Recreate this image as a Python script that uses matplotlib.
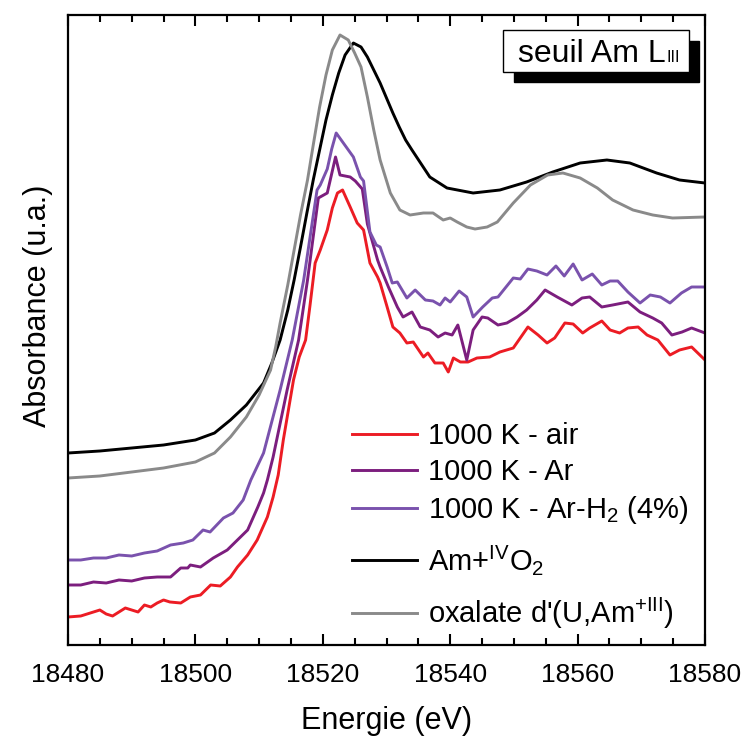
import matplotlib
matplotlib.use("Agg")
import matplotlib.pyplot as plt
from matplotlib.patches import Rectangle
from matplotlib.ticker import MultipleLocator

plt.rcParams['font.family'] = ['Liberation Sans', 'DejaVu Sans']
plt.rcParams['mathtext.fontset'] = 'custom'
plt.rcParams['mathtext.rm'] = 'Liberation Sans'
plt.rcParams['mathtext.it'] = 'Liberation Sans'
plt.rcParams['mathtext.bf'] = 'Liberation Sans'

# ---- data (absorbance in arbitrary units) ----
energy_amo2 = [18480, 18485, 18490, 18495, 18500, 18503, 18505.5, 18508, 18510.7, 18512,
               18513.3, 18514.5, 18515.5, 18516.5, 18517.5, 18518.5, 18519.5, 18520.5, 18521.5, 18522.5,
               18523.5, 18524.8, 18526, 18527, 18528, 18529, 18530, 18531, 18532, 18533,
               18534, 18536.8, 18539.5, 18543.6, 18547.8, 18552, 18556.1, 18560.4, 18564.6, 18568.2,
               18572.4, 18576, 18580]
abs_amo2 = [192, 194, 197, 200, 205, 212, 225, 240, 262, 282,
            305, 335, 365, 398, 432, 465, 495, 525, 550, 572,
            590, 602, 598, 588, 575, 562, 547, 532, 518, 505,
            495, 468, 457, 452, 455, 463, 473, 482, 485, 482,
            472, 465, 462]

energy_oxal = [18480, 18485, 18490, 18495, 18500, 18503, 18505.5, 18508, 18510, 18511.8,
               18512.6, 18513.3, 18514.5, 18515.5, 18516.5, 18517.6, 18518.5, 18519.5, 18520.5, 18521.5,
               18522.7, 18524, 18525, 18526, 18527, 18528, 18529, 18530.6, 18532.1, 18533.7,
               18535.8, 18537.3, 18538.9, 18540, 18541.1, 18542.6, 18543.9, 18545.8, 18547.4, 18549.9,
               18552.6, 18555.3, 18557.7, 18560.4, 18563.1, 18565.5, 18568.7, 18571.8, 18574.9, 18580]
abs_oxal = [167, 169, 173, 177, 183, 192, 208, 228, 250, 275,
            298, 322, 360, 395, 430, 465, 500, 538, 570, 595,
            610, 605, 592, 578, 548, 515, 485, 452, 435, 430,
            432, 432, 425, 427, 423, 418, 416, 418, 423, 442,
            460, 470, 472, 467, 457, 445, 435, 430, 427, 428]

energy_arh2 = [18480, 18482, 18484, 18486, 18488, 18490, 18492, 18494, 18496.1, 18498.1,
               18499.6, 18501.2, 18502.3, 18504.4, 18505.9, 18507.5, 18508.7, 18510.7, 18513.3, 18515.2,
               18517, 18518.4, 18519.1, 18519.6, 18520.7, 18521.4, 18522.1, 18523, 18524.8, 18525.9,
               18526.4, 18527.4, 18528.4, 18529, 18530.1, 18530.9, 18531.7, 18533.2, 18534.5, 18536.1,
               18537.3, 18538.4, 18539.2, 18540, 18541.4, 18542.6, 18543.6, 18545.1, 18546.6, 18547.5,
               18549.9, 18551, 18552.2, 18553.6, 18555.2, 18556.6, 18557.9, 18559.3, 18560.7, 18562.3,
               18563.8, 18565.1, 18566.3, 18567.9, 18569.8, 18571.4, 18573, 18574.5, 18576.3, 18577.9,
               18580]
abs_arh2 = [85, 85, 87, 87, 90, 89, 92, 94, 100, 102,
            105, 115, 113, 127, 132, 145, 165, 192, 255, 305,
            365, 425, 455, 460, 476, 496, 512, 504, 488, 468,
            464, 413, 400, 398, 378, 362, 363, 347, 355, 345,
            344, 340, 347, 343, 354, 348, 328, 338, 347, 348,
            367, 366, 376, 374, 370, 379, 369, 381, 365, 371,
            360, 364, 364, 353, 342, 350, 348, 342, 352, 358,
            358]

energy_ar = [18480, 18482, 18484, 18486, 18488, 18490, 18492, 18494, 18496.1, 18497.7,
             18498.8, 18499.2, 18500.8, 18502.8, 18505, 18506.6, 18508.2, 18509.8, 18510.7, 18511.3,
             18512.2, 18514.4, 18516.2, 18517.6, 18519.3, 18520.7, 18522, 18522.7, 18524.3, 18525.1,
             18526.2, 18527, 18528.6, 18529, 18530.3, 18531.7, 18532.6, 18534, 18535.3, 18536.8,
             18538.1, 18539.2, 18540.3, 18541.2, 18542.6, 18543.6, 18545, 18545.9, 18547.5, 18548.9,
             18550.5, 18552, 18553.6, 18554.9, 18556.8, 18559.1, 18560.7, 18561.9, 18563.8, 18565.5,
             18567.9, 18569.8, 18571.8, 18573.2, 18574.8, 18576.4, 18577.9, 18580]
abs_ar = [60, 60, 63, 62, 65, 64, 67, 68, 68, 77,
          77, 80, 78, 87, 95, 105, 115, 138, 152, 165,
          188, 255, 305, 365, 447, 452, 488, 470, 468, 464,
          456, 421, 385, 378, 358, 338, 328, 333, 318, 315,
          308, 312, 310, 320, 285, 315, 328, 327, 320, 322,
          328, 335, 345, 355, 348, 340, 347, 348, 338, 340,
          343, 333, 327, 322, 310, 313, 317, 312]

energy_air = [18480, 18482, 18484, 18485, 18486, 18487, 18488, 18489, 18490, 18491,
              18492, 18493, 18494, 18495, 18496, 18497.7, 18499.2, 18500.8, 18502.4, 18503.9,
              18505.5, 18506.6, 18508.2, 18509.7, 18511.3, 18512.2, 18513, 18513.8, 18514.6, 18515.4,
              18516.3, 18517.3, 18518, 18518.8, 18519.6, 18520.7, 18521.5, 18522.3, 18523.1, 18524.3,
              18525.4, 18526.4, 18527.4, 18528.6, 18529, 18530.1, 18531, 18532.1, 18533.2, 18534.2,
              18535.8, 18536.5, 18537.6, 18538.9, 18539.7, 18540.5, 18541.6, 18542.8, 18544.2, 18546.2,
              18547.8, 18549.9, 18552.2, 18553.8, 18555.2, 18556.4, 18558, 18559.3, 18560.8, 18561.9,
              18563.8, 18565.1, 18566.6, 18567.9, 18569.5, 18570.9, 18572.6, 18574.5, 18576, 18577.9,
              18580]
abs_air = [28, 29, 33, 35, 31, 29, 33, 37, 35, 33,
           40, 38, 42, 45, 43, 42, 48, 50, 60, 59,
           68, 78, 90, 105, 128, 148, 170, 205, 235, 265,
           288, 305, 340, 382, 395, 415, 437, 452, 455, 438,
           422, 415, 382, 368, 362, 338, 318, 312, 302, 303,
           288, 292, 282, 282, 273, 287, 283, 283, 287, 288,
           293, 297, 318, 310, 302, 307, 322, 321, 312, 317,
           324, 315, 312, 317, 318, 310, 305, 290, 295, 298,
           285]

W, H = 743, 738
fig = plt.figure(figsize=(W / 100, H / 100), dpi=100)
L, R, T, B = 68, 705, 15, 645
ax = fig.add_axes([L / W, 1 - B / H, (R - L) / W, (B - T) / H])

lw = 2.1
l_air, = ax.plot(energy_air, abs_air, color='#ec1c24', lw=lw, label='1000 K - air')
l_ar, = ax.plot(energy_ar, abs_ar, color='#7c1e7e', lw=lw, label='1000 K - Ar')
l_arh2, = ax.plot(energy_arh2, abs_arh2, color='#7a52ad', lw=lw, label='1000 K - Ar-H$_2$ (4%)')
l_amo2, = ax.plot(energy_amo2, abs_amo2, color='black', lw=lw, label='Am+$^{\\mathrm{IV}}$O$_2$')
l_oxal, = ax.plot(energy_oxal, abs_oxal, color='#8a8a8a', lw=lw, label="oxalate d'(U,Am$^{\\mathrm{+III}}$)")

ax.set_xlim(18480, 18580)
ax.set_ylim(0, 630)
ax.xaxis.set_major_locator(MultipleLocator(20))
ax.xaxis.set_minor_locator(MultipleLocator(5))
ax.tick_params(axis='x', which='both', direction='in', top=True, bottom=True,
               labelsize=19, width=1.5, pad=13)
ax.tick_params(axis='x', which='major', length=8)
ax.tick_params(axis='x', which='minor', length=5)
ax.tick_params(axis='y', which='both', left=False, right=False, labelleft=False)
for s in ax.spines.values():
    s.set_linewidth(1.6)

ax.set_xlabel('Energie (eV)', fontsize=22)
ax.xaxis.set_label_coords(0.5, -0.097)
ax.set_ylabel('Absorbance (u.a.)', fontsize=22)
ax.yaxis.set_label_coords(-0.024, 0.538)

def fx(px):
    return px / W

def fy(py):
    return 1 - py / H

leg_kw = dict(frameon=False, fontsize=21, handlelength=2.24, handletextpad=0.36,
              borderpad=0.0, borderaxespad=0.0, loc='upper left',
              bbox_transform=fig.transFigure)
leg1 = ax.legend(handles=[l_air, l_ar, l_arh2], labelspacing=0.28,
                 bbox_to_anchor=(fx(352), fy(422)), **leg_kw)
ax.add_artist(leg1)
leg2 = ax.legend(handles=[l_amo2, l_oxal], labelspacing=0.66,
                 bbox_to_anchor=(fx(352), fy(543)), **leg_kw)

# title box with shadow
shadow = Rectangle((fx(514), fy(82)), fx(699) - fx(514), fy(41) - fy(82),
                   transform=fig.transFigure, facecolor='black', edgecolor='black',
                   zorder=5)
box = Rectangle((fx(503), fy(72)), fx(689) - fx(503), fy(30) - fy(72),
                transform=fig.transFigure, facecolor='white', edgecolor='black',
                lw=1.0, zorder=6)
fig.patches.extend([shadow, box])
t_main = fig.text(fx(518), fy(62), 'seuil Am L', fontsize=23,
                  ha='left', va='baseline', zorder=7)
fig.canvas.draw()
bb = t_main.get_window_extent()
fig.text((bb.x1 + 1) / W, fy(62), 'III', fontsize=11.5,
         ha='left', va='baseline', zorder=7)

fig.savefig('out.png', dpi=100)
